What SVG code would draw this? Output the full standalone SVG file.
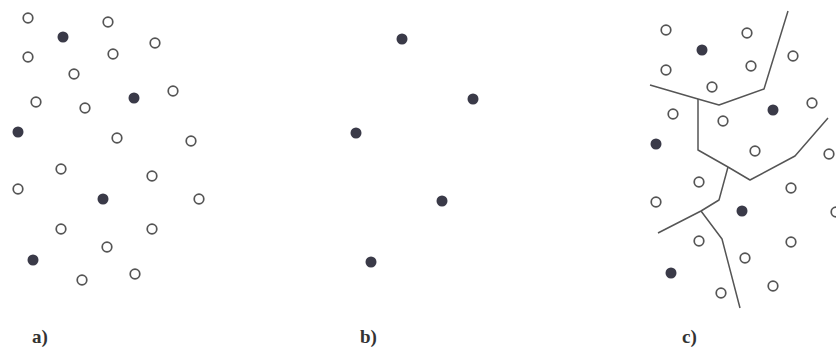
<svg xmlns="http://www.w3.org/2000/svg" width="836" height="349" viewBox="0 0 836 349">
<style>
.o{fill:#fff;stroke:#555;stroke-width:1.7}
.f{fill:#3a3a48;stroke:none}
.l{fill:none;stroke:#555;stroke-width:1.5;stroke-linejoin:round}
.t{font-family:"Liberation Serif",serif;font-weight:bold;font-size:19px;fill:#333}
</style>
<rect width="836" height="349" fill="#fff"/>
<g id="panel-a">
<circle class="o" cx="28" cy="18" r="4.8"/>
<circle class="o" cx="108" cy="22" r="4.8"/>
<circle class="o" cx="155" cy="43" r="4.8"/>
<circle class="o" cx="28" cy="57" r="4.8"/>
<circle class="o" cx="113" cy="54" r="4.8"/>
<circle class="o" cx="74" cy="74" r="4.8"/>
<circle class="o" cx="173" cy="91" r="4.8"/>
<circle class="o" cx="36" cy="102" r="4.8"/>
<circle class="o" cx="85" cy="108" r="4.8"/>
<circle class="o" cx="117" cy="138" r="4.8"/>
<circle class="o" cx="191" cy="141" r="4.8"/>
<circle class="o" cx="61" cy="169" r="4.8"/>
<circle class="o" cx="152" cy="176" r="4.8"/>
<circle class="o" cx="18" cy="189" r="4.8"/>
<circle class="o" cx="199" cy="199" r="4.8"/>
<circle class="o" cx="61" cy="229" r="4.8"/>
<circle class="o" cx="152" cy="229" r="4.8"/>
<circle class="o" cx="107" cy="247" r="4.8"/>
<circle class="o" cx="135" cy="274" r="4.8"/>
<circle class="o" cx="82" cy="280" r="4.8"/>
<circle class="f" cx="63" cy="37" r="5.5"/>
<circle class="f" cx="134" cy="98" r="5.5"/>
<circle class="f" cx="18" cy="132" r="5.5"/>
<circle class="f" cx="103" cy="199" r="5.5"/>
<circle class="f" cx="33" cy="260" r="5.5"/>
</g>
<g id="panel-b">
<circle class="f" cx="402" cy="39" r="5.5"/>
<circle class="f" cx="473" cy="99" r="5.5"/>
<circle class="f" cx="356" cy="133" r="5.5"/>
<circle class="f" cx="442" cy="201" r="5.5"/>
<circle class="f" cx="371" cy="262" r="5.5"/>
</g>
<g id="panel-c">
<circle class="o" cx="666" cy="30" r="4.8"/>
<circle class="o" cx="747" cy="33" r="4.8"/>
<circle class="o" cx="793" cy="56" r="4.8"/>
<circle class="o" cx="666" cy="70" r="4.8"/>
<circle class="o" cx="751" cy="66" r="4.8"/>
<circle class="o" cx="712" cy="87" r="4.8"/>
<circle class="o" cx="812" cy="103" r="4.8"/>
<circle class="o" cx="673" cy="114" r="4.8"/>
<circle class="o" cx="723" cy="121" r="4.8"/>
<circle class="o" cx="755" cy="151" r="4.8"/>
<circle class="o" cx="829" cy="154" r="4.8"/>
<circle class="o" cx="699" cy="182" r="4.8"/>
<circle class="o" cx="791" cy="188" r="4.8"/>
<circle class="o" cx="656" cy="202" r="4.8"/>
<circle class="o" cx="836" cy="212" r="4.8"/>
<circle class="o" cx="699" cy="241" r="4.8"/>
<circle class="o" cx="791" cy="242" r="4.8"/>
<circle class="o" cx="745" cy="258" r="4.8"/>
<circle class="o" cx="773" cy="286" r="4.8"/>
<circle class="o" cx="721" cy="293" r="4.8"/>
<circle class="f" cx="702" cy="50" r="5.5"/>
<circle class="f" cx="773" cy="110" r="5.5"/>
<circle class="f" cx="656" cy="144" r="5.5"/>
<circle class="f" cx="742" cy="211" r="5.5"/>
<circle class="f" cx="671" cy="273" r="5.5"/>
</g>
<g id="connectors">
<polyline class="l" points="650,85 698,99 719,105 764,89 788,11"/>
<polyline class="l" points="698,99 698,150 728,167 750,180 795,156 828,118"/>
<polyline class="l" points="728,167 719,200 701,211 658,233"/>
<polyline class="l" points="701,211 722,239 740,308"/>
</g>
<g id="labels">
<text class="t" x="32" y="343">a)</text>
<text class="t" x="360" y="343">b)</text>
<text class="t" x="682" y="343">c)</text>
</g>
</svg>
